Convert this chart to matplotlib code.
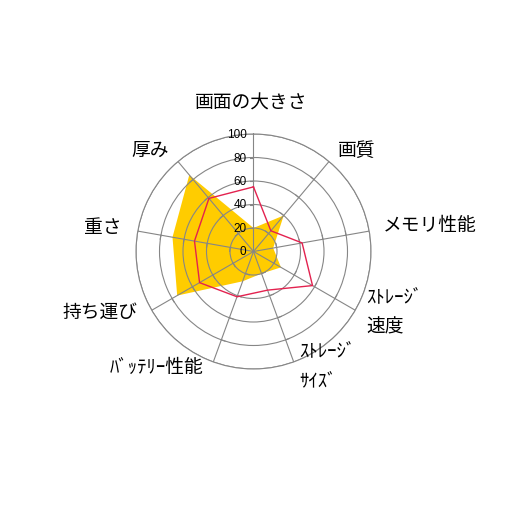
import numpy as np
import matplotlib.pyplot as plt
from matplotlib import transforms

plt.rcParams['font.family'] = ['Noto Sans CJK JP', 'DejaVu Sans']

# 項目とデータ
items = ["画面の大きさ", "画質", "メモリ性能", "ｽﾄﾚｰｼﾞ\n速度", "ｽﾄﾚｰｼﾞ\nｻｲｽﾞ",
         "ﾊﾞｯﾃﾘｰ性能", "持ち運び", "重さ", "厚み"]
series_a = [20, 40, 17, 27, 20, 27, 75, 70, 85]   # 黄色の塗りつぶし
series_b = [55, 23, 42, 58, 35, 41, 53, 51, 59]   # 赤い線
r_ticks = [0, 20, 40, 60, 80, 100]

W = 506
grid_col = "#868686"

fig = plt.figure(figsize=(W / 100, W / 100), dpi=100)
cx, cy, rad = 253.5, 252.5, 117.5
ax = fig.add_axes([(cx - rad) / W, 1 - (cy + rad) / W, 2 * rad / W, 2 * rad / W],
                  projection="polar")
ax.set_theta_zero_location("N")
ax.set_theta_direction(-1)
ax.set_ylim(0, 100)

angles = np.linspace(0, 2 * np.pi, len(items), endpoint=False)
ang_closed = np.append(angles, angles[0])

ax.fill(ang_closed, series_a + series_a[:1], color="#ffcc00", lw=0, zorder=1)
ax.plot(ang_closed, series_b + series_b[:1], color="#e3224f", lw=1.0, zorder=3)

# グリッド
ax.set_axisbelow(False)
ax.set_xticks(angles)
ax.set_xticklabels([])
ax.set_yticks(r_ticks[1:])
ax.set_yticklabels([])
ax.grid(True, color=grid_col, lw=0.8)
ax.spines["polar"].set_color(grid_col)
ax.spines["polar"].set_linewidth(0.8)
ax.tick_params(length=0)

# 各軸の目盛り
L = 3.4
for a in angles:
    for r in r_ticks[1:-1]:
        ax.plot([a, a - np.arctan(L / r)], [r, np.hypot(r, L)], color=grid_col,
                lw=0.8, zorder=2.5)

# 目盛りラベル
off = transforms.offset_copy(ax.transData, fig=fig, x=-7, y=0, units="dots")
for r in r_ticks:
    ax.text(0, r, str(r), transform=off, ha="right", va="center",
            fontsize=8.5, family="Liberation Sans", color="black")

# 項目ラベル (x, y はピクセル, ha)
label_pos = [(251, 103, "center"), (357, 150, "center"), (430, 226, "center"),
             (366, 297, "left"), (299, 351, "left"), (157, 367, "center"),
             (100, 312, "center"), (103, 227, "center"), (150, 150, "center")]
for name, (x, y, ha) in zip(items, label_pos):
    for i, line in enumerate(name.split("\n")):
        fig.text(x / W, 1 - (y + 29.5 * i) / W, line, ha=ha, va="center",
                 fontsize=13.5, color="black")

fig.savefig("out.png", dpi=100)
